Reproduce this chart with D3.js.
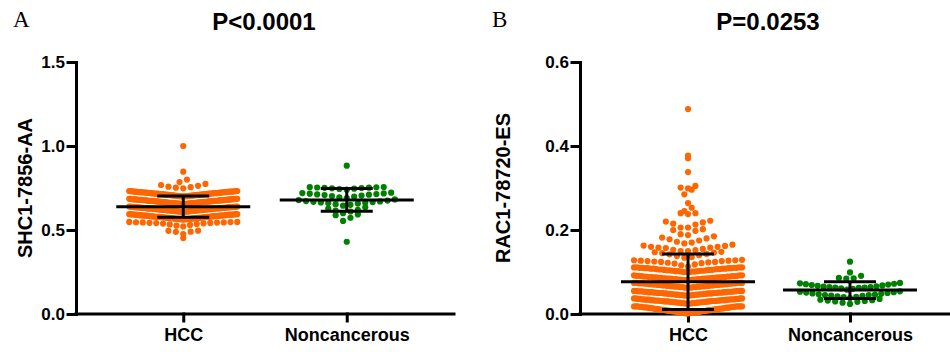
<!DOCTYPE html>
<html><head><meta charset="utf-8">
<script src="https://cdn.jsdelivr.net/npm/d3@7"></script>
<style>body{margin:0;background:#fff}svg{display:block}</style>
</head><body>
<svg id="chart" width="950" height="352"></svg>
<script>
// ---------- data ----------
const categories = ["HCC", "Noncancerous"];
const panelLetters = ["A", "B"];
const pValueLabels = ["P<0.0001", "P=0.0253"];
const yAxisLabels = ["SHC1-7856-AA", "RAC1-78720-ES"];
const yTicksA = [0.0, 0.5, 1.0, 1.5];
const yTicksB = [0.0, 0.2, 0.4, 0.6];

// Panel A : SHC1-7856-AA
const hccA = [1.0,.847,.800,.785,
.748,.752,.755,.758,.763,.768,.774,
.700,.700,.701,.701,.702,.702,.703,.703,.704,.704,.705,.705,.706,.706,.707,.707,.708,.708,.709,.709,
.710,.710,.711,.711,.712,.712,.713,.713,.714,.714,.715,.715,.716,.716,.716,.717,.717,.718,.718,.719,
.719,.720,.720,.720,.721,.721,.722,.722,.723,.723,.724,.724,.724,.725,.725,.726,.726,.727,.727,.728,
.728,.728,.729,.729,.730,.730,.731,.731,.732,.732,
.654,.654,.655,.655,.656,.656,.657,.657,.658,.658,.659,.659,.660,.660,.661,.661,.662,.662,.663,.663,
.664,.664,.665,.665,.666,.666,.667,.667,.668,.668,.669,.669,.670,.670,.670,.671,.671,.672,.672,.673,
.673,.674,.674,.674,.675,.675,.676,.676,.677,.677,.678,.678,.678,.679,.679,.680,.680,.681,.681,.682,
.682,.682,.683,.683,.684,.684,.685,.685,.686,.686,
.656,.658,.660,.662,.664,.666,.668,.670,.672,.674,.676,.678,.680,.682,.684,
.608,.608,.609,.609,.610,.610,.611,.611,.612,.612,.613,.613,.614,.614,.615,.615,.616,.616,.617,.617,
.618,.618,.619,.619,.620,.620,.621,.621,.622,.622,.623,.623,.624,.624,.624,.625,.625,.626,.626,.627,
.627,.628,.628,.628,.629,.629,.630,.630,.631,.631,.632,.632,.632,.633,.633,.634,.634,.635,.635,.636,
.636,.636,.637,.637,.638,.638,.639,.639,.640,.640,
.610,.612,.614,.616,.618,.620,.622,.624,.626,.628,.630,.632,.634,.636,.638,
.563,.563,.564,.564,.565,.565,.566,.566,.567,.567,.568,.568,.569,.569,.570,.570,.571,.571,.572,.572,
.573,.573,.574,.574,.575,.575,.576,.576,.577,.577,.578,.578,.579,.579,.579,.580,.580,.581,.581,.582,
.582,.583,.583,.583,.584,.584,.585,.585,.586,.586,.587,.587,.587,.588,.588,.589,.589,.590,.590,.591,
.591,.591,.592,.592,.593,.593,.594,.594,.594,.594,
.521,.526,.530,.533,.536,.538,.540,.541,.542,.543,.544,.545,.545,.546,.547,.548,.548,
.496,.495,.490,.489,.476,.452];
const nonA = [.883,
.740,.744,.746,.748,.750,.751,.752,.753,.754,.755,.756,
.690,.695,.699,.702,.705,.708,.710,.712,.714,.716,.718,.720,.722,
.645,.650,.654,.657,.660,.662,.664,.666,.668,.670,.672,.675,.678,.682,
.600,.610,.615,.620,.628,.635,
.554,.573,.588,.593,.430];

// Panel B : RAC1-78720-ES
const hccB = [
.001,.002,.002,.003,.003,.003,.004,.004,.004,.005,.005,.005,.006,.006,.006,.007,.007,.007,.008,.008,
.008,.009,.009,.009,.010,.010,.010,.011,.011,.011,.012,.012,.012,.013,.013,.013,.014,.014,.014,.015,
.015,.015,.016,.016,.016,.017,.017,.017,.017,.018,.018,.018,.018,.018,.018,.018,
.025,.025,.025,.025,.026,.026,.026,.026,.027,.027,.027,.027,.028,.028,.028,.028,.029,.029,.029,.029,
.030,.030,.030,.030,.030,.031,.031,.031,.031,.031,.032,.032,.032,.032,.032,.033,.033,.033,.033,.033,
.034,.034,.034,.034,.034,.035,.035,.035,.035,.035,.036,.036,.036,.036,.037,.037,.037,.037,
.044,.044,.044,.044,.045,.045,.045,.045,.046,.046,.046,.046,.047,.047,.047,.047,.048,.048,.048,.048,
.049,.049,.049,.049,.049,.050,.050,.050,.050,.050,.051,.051,.051,.051,.051,.052,.052,.052,.052,.052,
.053,.053,.053,.053,.053,.054,.054,.054,.054,.054,.055,.055,.055,.055,.055,
.063,.063,.063,.063,.064,.064,.064,.064,.065,.065,.065,.065,.066,.066,.066,.066,.067,.067,.067,.067,
.068,.068,.068,.068,.069,.069,.069,.069,.070,.070,.070,.070,.071,.071,.071,.071,.072,.072,.072,.072,
.073,.073,.073,.073,.073,.074,.074,.074,.074,.074,
.081,.081,.081,.081,.082,.082,.082,.082,.083,.083,.083,.083,.084,.084,.084,.084,.085,.085,.085,.085,
.086,.086,.086,.086,.087,.087,.087,.087,.088,.088,.088,.088,.089,.089,.089,.089,.090,.090,.090,.091,
.091,.091,.092,.092,.092,
.100,.100,.100,.101,.101,.101,.102,.102,.102,.103,.103,.103,.104,.104,.104,.105,.105,.105,.106,.106,
.106,.107,.107,.107,.108,.108,.108,.108,.109,.109,.109,.109,.110,.110,.110,.110,.111,.111,.111,.111,
.113,.116,.118,.120,.121,.122,.123,.124,.124,.125,.126,.126,.127,.127,.128,.128,.129,
.134,.136,.138,.140,.142,.143,.145,.146,.147,.148,
.150,.150,.152,.153,.155,.157,.158,.158,.160,.160,.162,.163,.165,
.168,.170,.172,.175,.178,.180,.182,.185,
.188,.190,.198,.200,.202,
.206,.206,.213,.215,.218,.220,.222,
.238,.240,.240,.245,.253,
.264,.285,.296,.299,.301,.305,.338,.371,.377,.488];
const nonB = [.1245,.099,
.084,.085,.086,.091,
.058,.060,.061,.062,.063,.063,.064,.064,.065,.066,.067,.068,.069,.070,.071,.072,.073,.074,
.038,.040,.041,.042,.043,.044,.045,.045,.046,.047,.048,.049,.050,.051,.052,.053,.054,
.024,.027,.029,.030,.031,.032,.033,.034,.036];

// mean and SD
const meanA = [0.639, 0.679];
const sdA   = [0.063, 0.068];
const meanB = [0.077, 0.057];
const sdB   = [0.066, 0.020];

const groupColors = ["#ff6600", "#008000"];

// ---------- drawing ----------
const svg = d3.select("#chart");
const FONT = "'Liberation Sans', Arial, Helvetica, sans-serif";

const panels = [
  {letter: panelLetters[0], title: pValueLabels[0], ylabel: yAxisLabels[0], ticks: yTicksA, ymax: 1.5,
   series: [hccA, nonA], means: meanA, sds: sdA,
   axisX: 76, xEnd: 454, xRange: [76, 454], pad: 0.656,
   letterX: 13, titleX: 264, ylabelX: 32, binPx: 7.7},
  {letter: panelLetters[1], title: pValueLabels[1], ylabel: yAxisLabels[1], ticks: yTicksB, ymax: 0.6,
   series: [hccB, nonB], means: meanB, sds: sdB,
   axisX: 580, xEnd: 958, xRange: [580, 958], pad: 0.667,
   letterX: 492, titleX: 768, ylabelX: 510, binPx: 7.8}
];

const yTop = 62, yBottom = 314;
const dotR = 3.1, step = 7.4;
const maxHalf = [54, 50];

function swarm(values, y, binPx, half) {
  const y0 = y(0);
  const groups = d3.groups(values, v => Math.floor((y0 - y(v)) / binPx + 1e-9));
  const out = [];
  for (const [, vals] of groups) {
    const s = vals.slice().sort(d3.ascending);
    const n = s.length;
    const sp = n > 1 ? Math.min(step, 2 * half / (n - 1)) : 0;
    const slots = d3.range(n).map(j => (j - (n - 1) / 2) * sp);
    slots.sort((a, b) => (Math.abs(a) - Math.abs(b)) || (a - b));
    s.forEach((v, i) => out.push({v, dx: slots[i]}));
  }
  return out;
}

panels.forEach(p => {
  const g = svg.append("g");
  const y = d3.scaleLinear().domain([0, p.ymax]).range([yBottom, yTop]);
  const x = d3.scalePoint().domain(categories).range(p.xRange).padding(p.pad);

  g.append("text").attr("x", p.letterX).attr("y", 27)
    .attr("font-family", "'Liberation Serif', 'Times New Roman', serif")
    .attr("font-size", 23).attr("fill", "#000").text(p.letter);
  g.append("text").attr("x", p.titleX).attr("y", 30).attr("text-anchor", "middle")
    .attr("font-family", FONT).attr("font-weight", "bold").attr("font-size", 24).text(p.title);
  g.append("text").attr("transform", `translate(${p.ylabelX},188) rotate(-90)`)
    .attr("text-anchor", "middle").attr("font-family", FONT).attr("font-weight", "bold")
    .attr("font-size", 20).text(p.ylabel);

  const ya = g.append("g").attr("transform", `translate(${p.axisX},0)`)
    .call(d3.axisLeft(y).tickValues(p.ticks).tickFormat(d3.format(".1f")).tickSize(8).tickSizeOuter(0).tickPadding(3));
  const xa = g.append("g").attr("transform", `translate(0,${yBottom})`)
    .call(d3.axisBottom(x).tickSize(7).tickSizeOuter(0).tickPadding(7));
  [ya, xa].forEach(a => {
    a.selectAll("path, line").attr("stroke", "#000").attr("stroke-width", 3).attr("stroke-linecap", "square");
    a.selectAll("text").attr("font-family", FONT).attr("font-weight", "bold").attr("fill", "#000");
  });
  ya.selectAll("text").attr("font-size", 17);
  xa.selectAll("text").attr("font-size", 18);
  xa.select(".domain").attr("d", `M${p.axisX},0H${p.xEnd}`);

  p.series.forEach((vals, gi) => {
    const cx = x(categories[gi]);
    const pts = swarm(vals, y, p.binPx, maxHalf[gi]);
    g.append("g").selectAll("circle").data(pts).join("circle")
      .attr("cx", d => cx + d.dx).attr("cy", d => y(d.v)).attr("r", dotR)
      .attr("fill", groupColors[gi]);
  });

  categories.forEach((c, gi) => {
    const cx = x(c), m = p.means[gi], s = p.sds[gi];
    const eb = g.append("g").attr("stroke", "#000").attr("stroke-width", 3);
    eb.append("line").attr("x1", cx - 67).attr("x2", cx + 67).attr("y1", y(m)).attr("y2", y(m));
    eb.append("line").attr("x1", cx).attr("x2", cx).attr("y1", y(m - s)).attr("y2", y(m + s));
    eb.append("line").attr("x1", cx - 26).attr("x2", cx + 26).attr("y1", y(m + s)).attr("y2", y(m + s));
    eb.append("line").attr("x1", cx - 26).attr("x2", cx + 26).attr("y1", y(m - s)).attr("y2", y(m - s));
  });
});
</script>
</body></html>
